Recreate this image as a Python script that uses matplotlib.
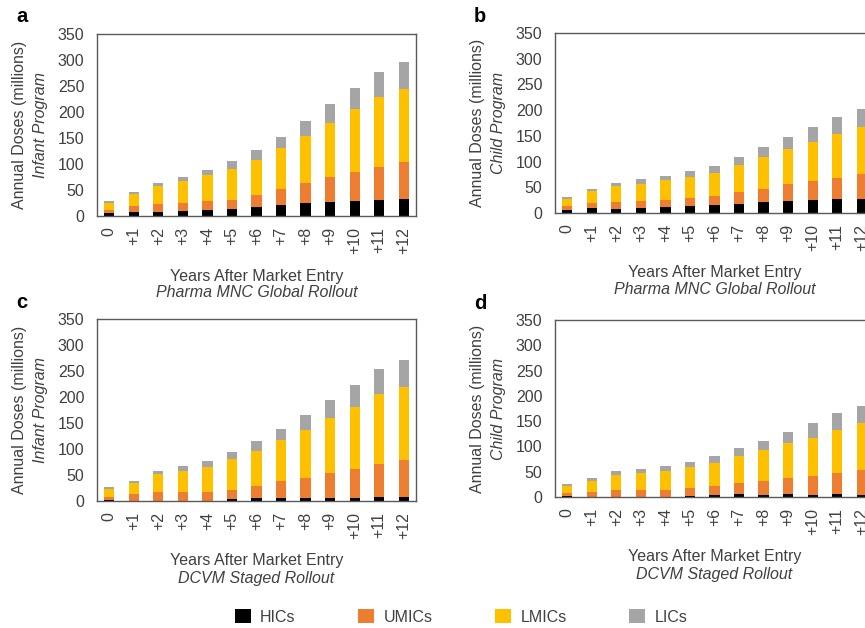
import matplotlib.pyplot as plt
from matplotlib.patches import Patch

plt.rcParams['font.family'] = ['Liberation Sans', 'DejaVu Sans']

years = ['0', '+1', '+2', '+3', '+4', '+5', '+6', '+7', '+8', '+9', '+10', '+11', '+12']
groups = ['HICs', 'UMICs', 'LMICs', 'LICs']
colors = ['#000000', '#ED7D31', '#FFC000', '#A5A5A5']

# panel a - infant program, pharma MNC global rollout
a_hic = [5, 7.7, 7.7, 9.6, 11.5, 13.5, 17.3, 20.5, 24.4, 27.6, 29.5, 31.4, 33.3]
a_umic = [6.5, 11.3, 15.3, 14.8, 16.5, 17.5, 23.7, 30.5, 38.6, 48, 55.1, 62.6, 71.2]
a_lmic = [14.1, 24, 34, 42.3, 50, 59, 67, 80, 91.5, 103.9, 121.4, 135.5, 139.5]
a_lic = [3.9, 3, 7, 8.9, 10.5, 15, 18, 21, 28.5, 35.5, 39.5, 47.5, 53]

# panel b - child program, pharma MNC global rollout
b_hic = [6.5, 9, 7.8, 9, 11, 13, 15, 18.2, 22, 24, 26, 28, 28]
b_umic = [6.5, 10.5, 14.2, 15, 14.4, 16, 18, 21.8, 25.5, 33, 36.5, 40, 48]
b_lmic = [14, 22.5, 31, 33, 39.1, 41, 44, 54, 61.5, 67, 76.1, 85.5, 90.5]
b_lic = [4, 5.5, 5.5, 9, 7.5, 11, 15, 15, 18.5, 24, 27.9, 33.5, 35.2]

# panel c - infant program, DCVM staged rollout
c_hic = [1, 0.6, 0.6, 0.6, 0.6, 3.2, 5, 6.4, 6.4, 6.4, 6.4, 8.3, 8.3]
c_umic = [7.3, 12.2, 16.1, 16.1, 16.1, 17.8, 24, 32.1, 38.6, 48.1, 55.1, 62.7, 69.7]
c_lmic = [14.7, 21.8, 34.3, 41.3, 49.3, 59, 68, 78.2, 92, 104.5, 119.5, 135.4, 141]
c_lic = [3, 4.4, 7, 9, 10, 14, 18, 21.8, 28.5, 34.6, 41.4, 47.6, 53]

# panel d - child program, DCVM staged rollout
d_hic = [1.3, 0.7, 0.7, 0.7, 0.7, 2.6, 4.6, 6.6, 4.6, 6.6, 4.6, 6.6, 4.6]
d_umic = [5.9, 9.3, 13.3, 13.3, 13.3, 14.4, 16.4, 21.4, 27.4, 31.4, 37.4, 40.8, 48.7]
d_lmic = [13.8, 22, 30, 34, 37.3, 42, 45.4, 54, 60.7, 68, 75, 85.6, 92.1]
d_lic = [4.7, 5.5, 6.6, 7, 9.2, 10.7, 15.1, 14, 18.3, 22, 29.7, 33, 33.6]

panels = [
    ('a', [a_hic, a_umic, a_lmic, a_lic], 'Infant Program', 'Pharma MNC Global Rollout', (97, 416, 34, 216)),
    ('b', [b_hic, b_umic, b_lmic, b_lic], 'Child Program', 'Pharma MNC Global Rollout', (555, 874, 33, 213)),
    ('c', [c_hic, c_umic, c_lmic, c_lic], 'Infant Program', 'DCVM Staged Rollout', (97, 416, 319, 501)),
    ('d', [d_hic, d_umic, d_lmic, d_lic], 'Child Program', 'DCVM Staged Rollout', (555, 874, 320, 497)),
]

W, H = 865, 628
txt = '#404040'
fs = 11.5
fig = plt.figure(figsize=(W / 100, H / 100), dpi=100)

for letter, series, prog, rollout, (l, r, t, b) in panels:
    ax = fig.add_axes([l / W, (H - b) / H, (r - l) / W, (b - t) / H])
    x = list(range(len(years)))
    bottom = [0] * len(years)
    for vals, col in zip(series, colors):
        ax.bar(x, vals, width=0.42, bottom=bottom, color=col, linewidth=0)
        bottom = [bb + v for bb, v in zip(bottom, vals)]
    ax.set_xlim(-0.5, 12.5)
    ax.set_ylim(0, 350)
    ax.set_yticks(range(0, 351, 50))
    ax.set_xticks(x)
    ax.set_xticklabels(years, rotation=90)
    ax.tick_params(length=0, labelsize=fs, colors=txt)
    ax.tick_params(axis='y', pad=9)
    ax.tick_params(axis='x', pad=8)
    for s in ax.spines.values():
        s.set_color('#595959')
        s.set_linewidth(1.0)

    cx = (l + r) / 2
    ymid = 1 - ((t + b) / 2) / H
    fig.text((l - 77) / W, ymid, 'Annual Doses (millions)',
             rotation=90, ha='center', va='center', fontsize=fs, color=txt)
    fig.text((l - 57) / W, ymid, prog, rotation=90,
             ha='center', va='center', fontsize=fs, style='italic', color=txt)
    fig.text(cx / W, 1 - (b + 60) / H, 'Years After Market Entry',
             ha='center', va='center', fontsize=fs, color=txt)
    fig.text(cx / W, 1 - (b + 77) / H, rollout, ha='center', va='center',
             fontsize=fs, style='italic', color=txt)
    fig.text((l - 75) / W, 1 - (t - 17) / H, letter, ha='center', va='center',
             fontsize=14.5, fontweight='bold', color='black')

handles = [Patch(facecolor=c, edgecolor='none') for c in colors]
leg = fig.legend(handles, groups, loc='center', bbox_to_anchor=(461 / W, 1 - 617 / H),
                 ncol=4, frameon=False, fontsize=fs, columnspacing=3.9,
                 handlelength=1.0, handleheight=1.0, handletextpad=0.6)
for t_ in leg.get_texts():
    t_.set_color(txt)

fig.savefig('out.png', dpi=100)
